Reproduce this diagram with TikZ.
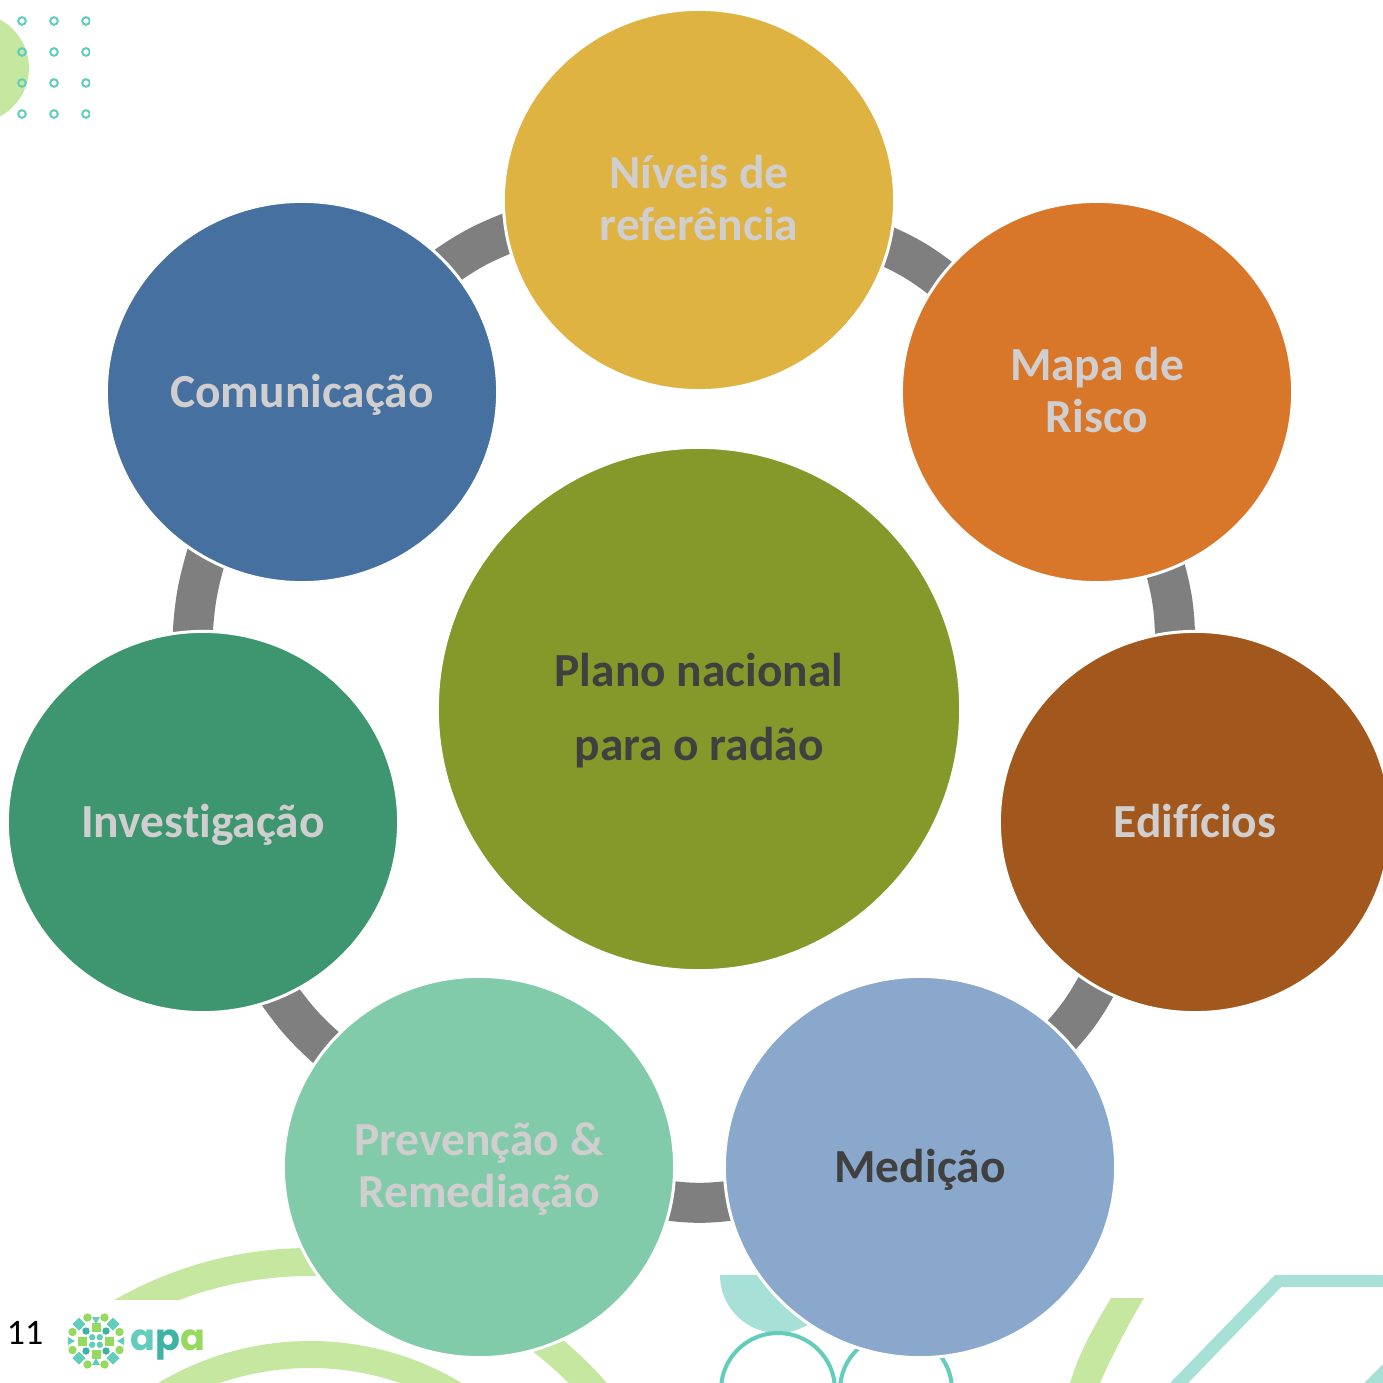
\documentclass[tikz,border=0pt]{standalone}
\usepackage{fontspec}
\setmainfont{Carlito}[Ligatures=NoCommon]
\newfontfamily\apafont{Poppins}
\usetikzlibrary{shapes.geometric,backgrounds}
\definecolor{goldc}{HTML}{DFB342}
\definecolor{orangec}{HTML}{D87629}
\definecolor{brownc}{HTML}{A2581C}
\definecolor{bluec}{HTML}{89A8CC}
\definecolor{mintc}{HTML}{81CBAA}
\definecolor{greenc}{HTML}{3D966F}
\definecolor{navyc}{HTML}{45709F}
\definecolor{olivec}{HTML}{85982A}
\definecolor{lightt}{HTML}{D0CECE}
\definecolor{darkt}{HTML}{404040}
\definecolor{linkc}{HTML}{7F7F7F}
\definecolor{limeb}{HTML}{C5E7A0}
\definecolor{tealb}{HTML}{A6E0D6}
\definecolor{tealr}{HTML}{62CDBB}
\definecolor{tealk}{HTML}{3FB3A3}
\definecolor{limek}{HTML}{97D85F}

\begin{document}
\begin{tikzpicture}[x=0.01cm,y=0.01cm]
	\tikzstyle{every node}+=[inner sep=0pt]
	\tikzstyle{disc}=[ellipse,draw=white,line width=0.03cm,minimum width=3.91cm,minimum height=3.81cm,align=center,font=\fontsize{13.5}{14.8}\selectfont\bfseries,text=lightt,text height=0.3cm,text depth=0pt]
	\tikzstyle{twoline}=[text height=0.81cm]
	\tikzstyle{hub}=[disc,minimum width=5.23cm,minimum height=5.23cm,font=\fontsize{13.5}{20.8}\selectfont\bfseries,text=darkt,text height=1.02cm]
	\tikzstyle{link}=[draw=linkc,line width=0.4cm,line cap=rect]
	\useasboundingbox (0,0) rectangle (1383,-1383);
	\clip (0,0) rectangle (1383,-1383);
	\node [hub,fill=olivec] (plano) at (699,-709) {Plano nacional\\para o radão};
	\node [disc,twoline,fill=goldc] (niveis) at (699,-200) {Níveis de\\referência};
	\node [disc,twoline,fill=orangec] (mapa) at (1097,-392) {Mapa de\\Risco};
	\node [disc,fill=brownc] (edificios) at (1195,-822) {Edifícios};
	\node [disc,fill=bluec,text=darkt] (medicao) at (920,-1167) {Medição};
	\node [disc,twoline,fill=mintc] (prevencao) at (479,-1167) {Prevenção \&\\Remediação};
	\node [disc,fill=greenc] (investigacao) at (203,-822) {Investigação};
	\node [disc,fill=navyc] (comunicacao) at (302,-392) {Comunicação};
	\node [font=\fontsize{10.2}{12}\selectfont] (pagina) at (25,-1333) {11};
	\node [font=\fontsize{10.4}{12}\apafont\bfseries] (sigla) at (168,-1345) {\textcolor{tealr}{a}\textcolor{tealk}{p}\textcolor{limek}{a}};
	\begin{scope}[on background layer]
		\clip (0,0) rectangle (1383,-1383);
		\fill [white] (0,0) rectangle (1383,-1383);
		\fill [limeb] (-26,-68) circle (55);
		\begin{scope}
			\clip (0,0) rectangle (90,-130);
			\foreach \x in {22,54,86}
				\foreach \y in {21,52,83,114}
					\draw [tealr,line width=0.02cm] (\x,-\y) circle (3.8);
		\end{scope}
		\fill [limeb,even odd rule] (310,-1642) circle (394) (310,-1642) circle (366);
		\fill [white] (0,-1300) rectangle (215,-1383);
		\fill [limeb,even odd rule] (310,-1636) circle (295) (310,-1645) circle (277);
		\fill [tealb] (720,-1275) arc (180:360:58) -- cycle;
		\draw [tealr,line width=0.04cm] (778,-1390) circle (57);
		\draw [tealr,line width=0.04cm] (896,-1390) circle (56);
		\fill [limeb] (1111,-1298) -- (1144,-1298) .. controls (1125,-1330) and (1110,-1360) .. (1100,-1383) -- (1070,-1383) .. controls (1080,-1350) and (1095,-1325) .. (1111,-1298) -- cycle;
		\fill [tealb] (1170,-1383) -- (1275,-1275) -- (1383,-1275) -- (1383,-1287) -- (1281,-1287) -- (1188,-1383) -- cycle;
		\fill [tealb] (1364,-1383) -- (1383,-1364) -- (1383,-1383) -- cycle;
		\foreach \x/\y in {-3.8/-3.8,3.8/-3.8,-3.8/3.8,3.8/3.8}
			\fill [tealr] (96+\x,-1341+\y) circle (3.2);
		\foreach \x/\y in {-10/-10,10/-10,-10/10,10/10}
			\fill [tealk] (96+\x,-1341+\y) circle (3.7);
		\foreach \x/\y in {0/13.5,0/-13.5,13.5/0,-13.5/0}
			\fill [limek] (96+\x-4.5,-1341+\y-4.5) rectangle (96+\x+4.5,-1341+\y+4.5);
		\foreach \x/\y in {-17/-17,17/-17,-17/17,17/17}
			\fill [tealr] (96+\x-6.5,-1341+\y) -- (96+\x,-1341+\y+6.5) -- (96+\x+6.5,-1341+\y) -- (96+\x,-1341+\y-6.5) -- cycle;
		\foreach \x/\y in {-8.5/23.5,8.5/23.5,-8.5/-23.5,8.5/-23.5,-23.5/9,23.5/9,-23.5/-9,23.5/-9}
			\fill [limek] (96+\x,-1341+\y) circle (4.2);
		\fill [tealr] (92,-1317) -- (100,-1317) -- (96,-1324) -- cycle;
		\fill [tealr] (92,-1365) -- (100,-1365) -- (96,-1358) -- cycle;
		\fill [tealr] (68,-1337) -- (68,-1345) -- (75,-1341) -- cycle;
		\fill [tealr] (124,-1337) -- (124,-1345) -- (117,-1341) -- cycle;
		\draw [link] (niveis.-14.8) to [bend left=6] (mapa.144);
		\draw [link] (mapa.-69.5) to [bend left=6] (edificios.96);
		\draw [link] (edificios.239.7) to [bend left=6] (medicao.43.7);
		\draw [link] (medicao.190) to [bend left=6] (prevencao.-10.4);
		\draw [link] (prevencao.142.5) to [bend left=6] (investigacao.-66.5);
		\draw [link] (investigacao.93) to [bend left=6] (comunicacao.240);
		\draw [link] (comunicacao.41) to [bend left=6] (niveis.190.5);
	\end{scope}
\end{tikzpicture}
\end{document}
